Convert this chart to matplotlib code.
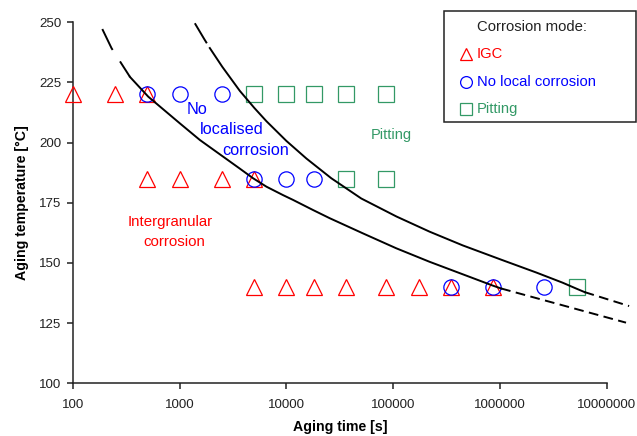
import matplotlib
matplotlib.use("Agg")
import matplotlib.pyplot as plt
from matplotlib.lines import Line2D
from matplotlib.patches import Rectangle
import matplotlib.ticker as mticker

plt.rcParams["font.family"] = ["Liberation Sans", "DejaVu Sans"]

RED = "#ff0000"
BLUE = "#0000ff"
GREEN = "#339966"

# Test results: aging time [s] and aging temperature [C] for each corrosion mode
IGC_TIME = [100, 250, 500,
            500, 1000, 2500, 5000,
            5000, 10000, 18000, 36000, 86400, 172800, 345600, 864000]
IGC_TEMP = [220, 220, 220,
            185, 185, 185, 185,
            140, 140, 140, 140, 140, 140, 140, 140]

NOLOC_TIME = [500, 1000, 2500,
              5000, 10000, 18000,
              345600, 864000, 2592000]
NOLOC_TEMP = [220, 220, 220,
              185, 185, 185,
              140, 140, 140]

PIT_TIME = [5000, 10000, 18000, 36000, 86400,
            36000, 86400,
            5184000]
PIT_TEMP = [220, 220, 220, 220, 220,
            185, 185,
            140]

# Boundary lines (log10 of time, temperature): dashed ends, solid middle
IGC_TOP_LOGT = [2.277, 2.364, 2.536]
IGC_TOP_TEMP = [247.2, 239.2, 227.3]
IGC_MID_LOGT = [2.536, 2.707, 3.003, 3.190, 3.564, 3.688, 3.813, 3.968, 4.062,
                4.249, 4.405, 4.716, 5.028, 5.339, 5.650, 5.931, 6.009]
IGC_MID_TEMP = [227.3, 219.1, 208.0, 201.1, 189.2, 185.2, 181.7, 178.2, 176.2,
                172.0, 168.6, 162.3, 156.1, 150.5, 145.3, 140.6, 139.4]
IGC_END_LOGT = [6.009, 7.178]
IGC_END_TEMP = [139.4, 125.2]

PIT_TOP_LOGT = [3.143, 3.230, 3.283]
PIT_TOP_TEMP = [249.6, 243.1, 239.3]
PIT_MID_LOGT = [3.283, 3.400, 3.564, 3.700, 3.813, 4.000, 4.187, 4.420, 4.700,
                5.030, 5.340, 5.650, 6.020, 6.340, 6.585, 6.710, 6.790]
PIT_MID_TEMP = [239.3, 231.5, 221.5, 214.4, 208.9, 200.7, 193.4, 185.2, 176.8,
                169.3, 163.0, 157.3, 151.2, 146.0, 141.8, 139.4, 137.9]
PIT_END_LOGT = [6.790, 7.207]
PIT_END_TEMP = [137.9, 132.1]

X_TICKS = [100, 1000, 10000, 100000, 1000000, 10000000]
Y_TICKS = [100, 125, 150, 175, 200, 225, 250]


def draw_boundary(ax, logt, temp, style):
    ax.plot([10 ** v for v in logt], temp, color="black", lw=1.4,
            linestyle=style, clip_on=False, zorder=4)


fig = plt.figure(figsize=(6.37, 4.36), dpi=100)
ax = fig.add_axes([72.7 / 637, 1 - 383.3 / 436, (607 - 72.7) / 637, (383.3 - 22.3) / 436])

ax.plot(IGC_TIME, IGC_TEMP, linestyle="none", marker="^", ms=12, mfc="none",
        mec=RED, mew=0.9, clip_on=False, zorder=3)
ax.plot(NOLOC_TIME, NOLOC_TEMP, linestyle="none", marker="o", ms=11, mfc="none",
        mec=BLUE, mew=0.9, clip_on=False, zorder=3)
ax.plot(PIT_TIME, PIT_TEMP, linestyle="none", marker="s", ms=11, mfc="none",
        mec=GREEN, mew=0.9, clip_on=False, zorder=3)

dash_top = (0, (12, 7))
dash_end = (0, (5, 2.8))
draw_boundary(ax, IGC_TOP_LOGT, IGC_TOP_TEMP, dash_top)
draw_boundary(ax, IGC_MID_LOGT, IGC_MID_TEMP, "-")
draw_boundary(ax, IGC_END_LOGT, IGC_END_TEMP, dash_end)
draw_boundary(ax, PIT_TOP_LOGT, PIT_TOP_TEMP, dash_top)
draw_boundary(ax, PIT_MID_LOGT, PIT_MID_TEMP, "-")
draw_boundary(ax, PIT_END_LOGT, PIT_END_TEMP, dash_end)

ax.set_xscale("log")
ax.set_xlim(100, 10000000)
ax.set_ylim(100, 250)
ax.set_xticks(X_TICKS)
ax.xaxis.set_major_formatter(mticker.FuncFormatter(lambda v, p: "{0:d}".format(int(round(v)))))
ax.xaxis.set_minor_locator(mticker.NullLocator())
ax.set_yticks(Y_TICKS)

for side in ["top", "right"]:
    ax.spines[side].set_visible(False)
for side in ["left", "bottom"]:
    ax.spines[side].set_linewidth(1.1)
    ax.spines[side].set_color("#222222")
ax.tick_params(direction="out", length=4, width=1.1, color="#222222",
               labelsize=9.6, labelcolor="#222222")
ax.tick_params(axis="x", pad=7)
ax.tick_params(axis="y", pad=4)

ax.set_xlabel("Aging time [s]", fontsize=10.2, fontweight="bold", labelpad=7)
ax.set_ylabel("Aging temperature [°C]", fontsize=10.2, fontweight="bold", labelpad=7)

# Region labels
ax.text(1452, 213.6, "No", color=BLUE, fontsize=11.7, ha="center", va="center")
ax.text(3083, 205.3, "localised", color=BLUE, fontsize=11.7, ha="center", va="center")
ax.text(5164, 196.9, "corrosion", color=BLUE, fontsize=11.7, ha="center", va="center")
ax.text(96300, 203.2, "Pitting", color=GREEN, fontsize=10.5, ha="center", va="center")
ax.text(811, 167.0, "Intergranular", color=RED, fontsize=10.8, ha="center", va="center")
ax.text(885, 158.7, "corrosion", color=RED, fontsize=10.8, ha="center", va="center")

# Legend box in figure pixels
W, H = 637.0, 436.0
fig.add_artist(Rectangle((444 / W, 1 - 121.7 / H), (636 - 444) / W, (121.7 - 10.7) / H,
                         transform=fig.transFigure, fill=False, edgecolor="#222222", lw=1.1))
fig.text(476.7 / W, 1 - 27 / H, "Corrosion mode:", fontsize=10.7, color="#222222",
         ha="left", va="center")
entries = [("^", RED, "IGC", 54, 9), ("o", BLUE, "No local corrosion", 82, 8.5),
           ("s", GREEN, "Pitting", 109, 8)]
for marker, colour, label, ypix, size in entries:
    fig.add_artist(Line2D([465.7 / W], [1 - ypix / H], marker=marker, ms=size, mfc="none",
                          mec=colour, mew=0.9, linestyle="none", transform=fig.transFigure))
    fig.text(476.7 / W, 1 - ypix / H, label, fontsize=10.6, color=colour, ha="left", va="center")

fig.savefig("out.png", dpi=100)
